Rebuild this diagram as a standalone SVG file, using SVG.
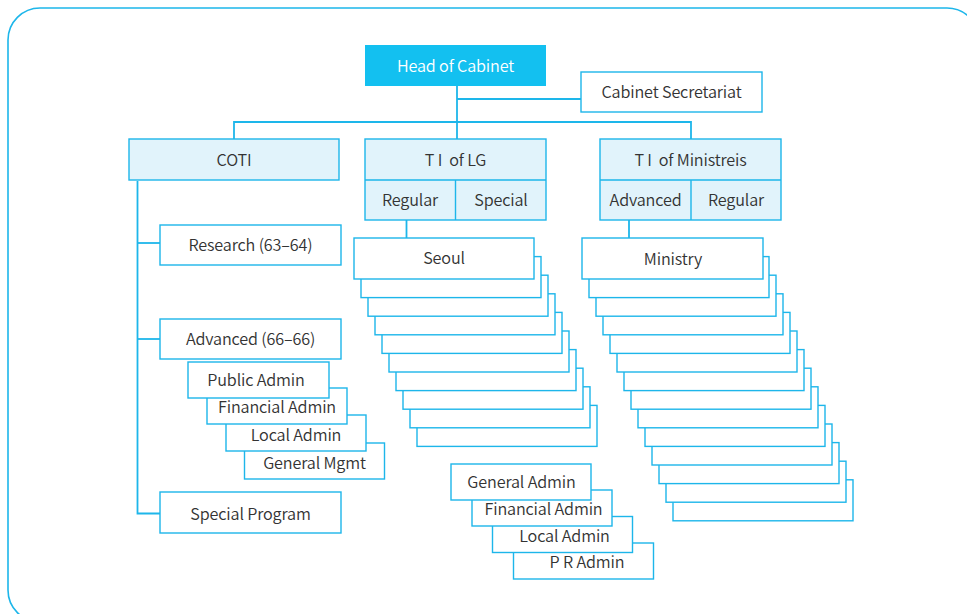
<svg xmlns="http://www.w3.org/2000/svg" width="967" height="614" viewBox="0 0 967 614">
  <style>
    .frame { fill: #ffffff; stroke: #1db6ea; stroke-width: 1.6; }
    .box { fill: #ffffff; stroke: #1db6ea; stroke-width: 1.4; }
    .hdr { fill: #e1f3fb; stroke: #1db6ea; stroke-width: 1.4; }
    .top { fill: #13c0f0; }
    .wire { fill: none; stroke: #1db6ea; stroke-width: 1.8; }
    text { font-family: "Noto Sans CJK KR", "Noto Sans", sans-serif; font-weight: 350; font-size: 16.2px; letter-spacing: -0.15px; fill: #333333; text-anchor: middle; dominant-baseline: central; }
    .wt { fill: #ffffff; }
  </style>

  <!-- outer rounded frame -->
  <rect class="frame" x="8" y="8" width="971" height="614" rx="32"/>

  <!-- connectors -->
  <g id="connectors">
    <path class="wire" d="M457 86 V139"/>
    <path class="wire" d="M457 99 H581"/>
    <path class="wire" d="M234 139 V122 H691 V139"/>
    <path class="wire" d="M137.5 181 V513.5 H160"/>
    <path class="wire" d="M137.5 243 H160"/>
    <path class="wire" d="M137.5 339 H160"/>
    <path class="wire" d="M406.5 220 V238"/>
    <path class="wire" d="M629 220 V238"/>
  </g>

  <g id="head">
    <rect class="top" x="365" y="45" width="181" height="41"/>
    <text class="wt" x="455.5" y="64.5">Head of Cabinet</text>
  </g>

  <g id="secretariat">
    <rect class="box" x="581" y="72" width="181" height="40"/>
    <text x="671.5" y="91">Cabinet Secretariat</text>
  </g>

  <g id="coti">
    <rect class="hdr" x="129" y="139" width="210" height="41"/>
    <text x="234" y="158.5">COTI</text>
  </g>

  <g id="ti-lg">
    <rect class="hdr" x="365" y="139" width="181" height="81"/>
    <path class="box" d="M365 180 H546 M455.5 180 V220" fill="none"/>
    <text x="455.5" y="158.5">T I &#160;of LG</text>
    <text x="410" y="199">Regular</text>
    <text x="501" y="199">Special</text>
  </g>

  <g id="ti-ministries">
    <rect class="hdr" x="600" y="139" width="181" height="81"/>
    <path class="box" d="M600 180 H781 M691 180 V220" fill="none"/>
    <text x="690.5" y="158.5">T I &#160;of Ministreis</text>
    <text x="645.5" y="199">Advanced</text>
    <text x="736" y="199">Regular</text>
  </g>

  <g id="research">
    <rect class="box" x="160" y="225" width="181" height="40"/>
    <text x="250.5" y="244">Research (63–64)</text>
  </g>

  <g id="advanced">
    <rect class="box" x="160" y="319" width="181" height="40"/>
    <text x="250.5" y="338">Advanced (66–66)</text>
  </g>

  <!-- advanced course subjects, back to front -->
  <g id="general-mgmt">
    <rect class="box" x="244.5" y="443" width="140" height="36"/>
    <text x="314.5" y="462">General Mgmt</text>
  </g>
  <g id="local-admin-a">
    <rect class="box" x="226" y="415" width="140" height="36"/>
    <text x="296" y="433.5">Local Admin</text>
  </g>
  <g id="financial-admin-a">
    <rect class="box" x="207" y="388" width="140" height="36"/>
    <text x="277" y="406">Financial Admin</text>
  </g>
  <g id="public-admin">
    <rect class="box" x="188" y="362" width="141" height="36"/>
    <text x="256" y="379">Public Admin</text>
  </g>

  <g id="special-program">
    <rect class="box" x="160" y="492" width="181" height="41"/>
    <text x="250.5" y="512.5">Special Program</text>
  </g>

  <!-- local government stack, back to front -->
  <g id="lg-9"><rect class="box" x="417" y="405.4" width="180" height="41"/></g>
  <g id="lg-8"><rect class="box" x="410" y="386.8" width="180" height="41"/></g>
  <g id="lg-7"><rect class="box" x="403" y="368.2" width="180" height="41"/></g>
  <g id="lg-6"><rect class="box" x="396" y="349.6" width="180" height="41"/></g>
  <g id="lg-5"><rect class="box" x="389" y="331" width="180" height="41"/></g>
  <g id="lg-4"><rect class="box" x="382" y="312.4" width="180" height="41"/></g>
  <g id="lg-3"><rect class="box" x="375" y="293.8" width="180" height="41"/></g>
  <g id="lg-2"><rect class="box" x="368" y="275.2" width="180" height="41"/></g>
  <g id="lg-1"><rect class="box" x="361" y="256.6" width="180" height="41"/></g>
  <g id="seoul">
    <rect class="box" x="354" y="238" width="180" height="41"/>
    <text x="444" y="257">Seoul</text>
  </g>

  <!-- ministry stack, back to front -->
  <g id="min-13"><rect class="box" x="673" y="479.8" width="180" height="41"/></g>
  <g id="min-12"><rect class="box" x="666" y="461.2" width="180" height="41"/></g>
  <g id="min-11"><rect class="box" x="659" y="442.6" width="180" height="41"/></g>
  <g id="min-10"><rect class="box" x="652" y="424" width="180" height="41"/></g>
  <g id="min-9"><rect class="box" x="645" y="405.4" width="180" height="41"/></g>
  <g id="min-8"><rect class="box" x="638" y="386.8" width="180" height="41"/></g>
  <g id="min-7"><rect class="box" x="631" y="368.2" width="180" height="41"/></g>
  <g id="min-6"><rect class="box" x="624" y="349.6" width="180" height="41"/></g>
  <g id="min-5"><rect class="box" x="617" y="331" width="180" height="41"/></g>
  <g id="min-4"><rect class="box" x="610" y="312.4" width="180" height="41"/></g>
  <g id="min-3"><rect class="box" x="603" y="293.8" width="180" height="41"/></g>
  <g id="min-2"><rect class="box" x="596" y="275.2" width="180" height="41"/></g>
  <g id="min-1"><rect class="box" x="589" y="256.6" width="180" height="41"/></g>
  <g id="ministry">
    <rect class="box" x="582" y="238" width="181" height="41"/>
    <text x="673" y="257.5">Ministry</text>
  </g>

  <!-- regular course subjects, back to front -->
  <g id="pr-admin">
    <rect class="box" x="513.5" y="543" width="140" height="36"/>
    <text x="587" y="561">P R Admin</text>
  </g>
  <g id="local-admin-b">
    <rect class="box" x="492.5" y="516.5" width="140" height="36"/>
    <text x="564.5" y="535">Local Admin</text>
  </g>
  <g id="financial-admin-b">
    <rect class="box" x="472" y="490" width="140" height="36"/>
    <text x="543.5" y="508">Financial Admin</text>
  </g>
  <g id="general-admin">
    <rect class="box" x="451" y="464" width="140" height="36"/>
    <text x="521.5" y="480.5">General Admin</text>
  </g>
</svg>
